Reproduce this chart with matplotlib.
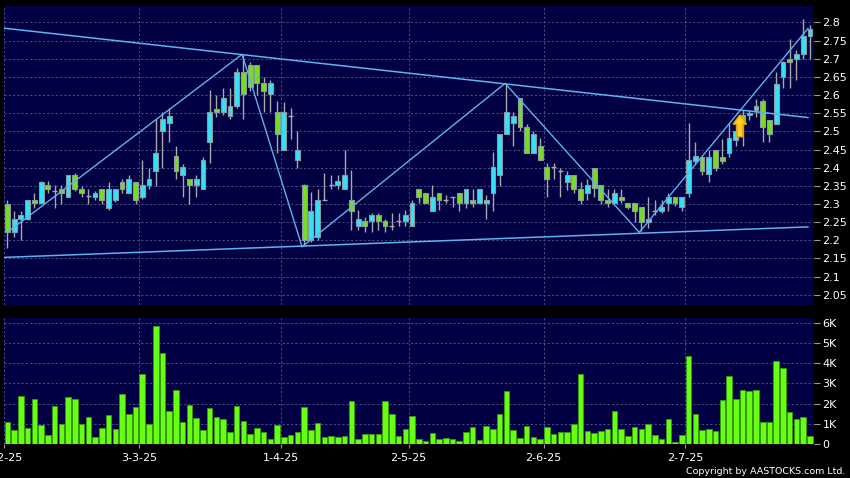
import matplotlib
matplotlib.use('Agg')
import matplotlib.pyplot as plt
import numpy as np
from matplotlib.patches import Polygon

# ---------------- data ----------------
opens = [2.300, 2.222, 2.260, 2.260, 2.311, 2.302, 2.352, 2.337, 2.340, 2.320,
         2.381, 2.340, 2.322, 2.320, 2.340, 2.290, 2.311, 2.361, 2.331, 2.361,
         2.320, 2.352, 2.391, 2.502, 2.522, 2.431, 2.381, 2.370, 2.352, 2.340,
         2.471, 2.561, 2.552, 2.542, 2.571, 2.662, 2.682, 2.682, 2.632, 2.603,
         2.552, 2.450, 2.542, 2.421, 2.351, 2.200, 2.210, 2.310, 2.352, 2.351,
         2.340, 2.310, 2.240, 2.253, 2.253, 2.271, 2.253, 2.240, 2.253, 2.253,
         2.240, 2.340, 2.331, 2.281, 2.331, 2.311, 2.320, 2.331, 2.302, 2.311,
         2.302, 2.302, 2.331, 2.381, 2.492, 2.522, 2.591, 2.513, 2.441, 2.460,
         2.401, 2.401, 2.391, 2.361, 2.381, 2.340, 2.331, 2.400, 2.351, 2.310,
         2.302, 2.320, 2.302, 2.302, 2.292, 2.250, 2.281, 2.281, 2.302, 2.320,
         2.292, 2.331, 2.419, 2.430, 2.382, 2.449, 2.430, 2.441, 2.475, 2.545,
         2.545, 2.560, 2.584, 2.532, 2.520, 2.650, 2.700, 2.700, 2.712, 2.762]
highs = [2.310, 2.280, 2.280, 2.311, 2.330, 2.362, 2.363, 2.352, 2.352, 2.381,
         2.385, 2.350, 2.340, 2.335, 2.340, 2.361, 2.340, 2.370, 2.381, 2.361,
         2.421, 2.400, 2.534, 2.552, 2.563, 2.461, 2.410, 2.370, 2.381, 2.430,
         2.614, 2.600, 2.620, 2.620, 2.673, 2.710, 2.690, 2.682, 2.650, 2.640,
         2.583, 2.581, 2.563, 2.500, 2.355, 2.333, 2.340, 2.385, 2.380, 2.380,
         2.450, 2.393, 2.283, 2.265, 2.274, 2.274, 2.260, 2.274, 2.274, 2.283,
         2.311, 2.340, 2.331, 2.352, 2.331, 2.325, 2.320, 2.331, 2.340, 2.340,
         2.340, 2.325, 2.442, 2.492, 2.632, 2.552, 2.591, 2.520, 2.502, 2.481,
         2.412, 2.412, 2.400, 2.391, 2.381, 2.360, 2.370, 2.400, 2.351, 2.340,
         2.340, 2.340, 2.302, 2.302, 2.292, 2.320, 2.310, 2.310, 2.331, 2.320,
         2.320, 2.522, 2.472, 2.430, 2.449, 2.449, 2.480, 2.522, 2.520, 2.560,
         2.558, 2.590, 2.590, 2.532, 2.664, 2.693, 2.753, 2.723, 2.810, 2.793]
lows = [2.180, 2.210, 2.200, 2.255, 2.290, 2.300, 2.330, 2.290, 2.300, 2.320,
        2.335, 2.320, 2.300, 2.310, 2.300, 2.283, 2.305, 2.330, 2.330, 2.300,
        2.315, 2.340, 2.350, 2.400, 2.470, 2.370, 2.320, 2.300, 2.320, 2.340,
        2.412, 2.540, 2.545, 2.533, 2.565, 2.535, 2.610, 2.600, 2.554, 2.552,
        2.441, 2.450, 2.480, 2.400, 2.185, 2.195, 2.200, 2.310, 2.340, 2.340,
        2.340, 2.228, 2.228, 2.222, 2.222, 2.228, 2.222, 2.228, 2.240, 2.240,
        2.240, 2.302, 2.302, 2.281, 2.283, 2.302, 2.292, 2.281, 2.290, 2.292,
        2.302, 2.260, 2.281, 2.350, 2.492, 2.460, 2.502, 2.441, 2.441, 2.421,
        2.320, 2.370, 2.320, 2.338, 2.330, 2.300, 2.310, 2.320, 2.300, 2.292,
        2.302, 2.302, 2.285, 2.250, 2.225, 2.235, 2.270, 2.275, 2.281, 2.295,
        2.281, 2.320, 2.410, 2.380, 2.360, 2.390, 2.410, 2.430, 2.460, 2.460,
        2.531, 2.540, 2.470, 2.470, 2.520, 2.620, 2.620, 2.640, 2.700, 2.700]
closes = [2.222, 2.260, 2.271, 2.311, 2.302, 2.361, 2.340, 2.337, 2.331, 2.381,
          2.340, 2.331, 2.322, 2.331, 2.311, 2.340, 2.340, 2.340, 2.370, 2.311,
          2.352, 2.370, 2.441, 2.533, 2.542, 2.391, 2.401, 2.352, 2.370, 2.421,
          2.552, 2.552, 2.591, 2.571, 2.662, 2.603, 2.621, 2.632, 2.612, 2.632,
          2.492, 2.552, 2.542, 2.450, 2.200, 2.281, 2.310, 2.310, 2.352, 2.362,
          2.381, 2.281, 2.260, 2.240, 2.271, 2.253, 2.240, 2.240, 2.253, 2.271,
          2.302, 2.320, 2.302, 2.320, 2.311, 2.311, 2.320, 2.302, 2.340, 2.302,
          2.340, 2.311, 2.401, 2.492, 2.552, 2.542, 2.513, 2.441, 2.492, 2.421,
          2.370, 2.401, 2.391, 2.381, 2.340, 2.311, 2.352, 2.345, 2.310, 2.302,
          2.331, 2.310, 2.292, 2.281, 2.250, 2.260, 2.281, 2.292, 2.320, 2.302,
          2.320, 2.421, 2.432, 2.392, 2.430, 2.400, 2.419, 2.481, 2.500, 2.520,
          2.550, 2.569, 2.513, 2.492, 2.630, 2.692, 2.692, 2.712, 2.762, 2.783]
volume_k = [1.07, 0.71, 2.39, 0.77, 2.22, 0.92, 0.44, 1.86, 0.99, 2.34,
            2.22, 0.97, 1.35, 0.35, 0.79, 1.43, 0.76, 2.50, 1.47, 1.81,
            3.48, 1.00, 5.86, 4.51, 1.63, 2.65, 1.07, 1.93, 1.27, 0.68,
            1.78, 1.32, 1.25, 0.61, 1.89, 1.15, 0.48, 0.77, 0.58, 0.26,
            0.92, 0.35, 0.46, 0.58, 1.85, 0.69, 1.04, 0.36, 0.41, 0.33,
            0.40, 2.14, 0.26, 0.49, 0.49, 0.48, 2.14, 1.47, 0.40, 0.72,
            1.40, 0.23, 0.17, 0.56, 0.27, 0.28, 0.23, 0.13, 0.58, 0.83,
            0.20, 0.90, 0.76, 1.48, 2.62, 0.68, 0.32, 0.91, 0.37, 0.23,
            0.85, 0.48, 0.58, 0.61, 1.00, 3.47, 0.63, 0.53, 0.63, 0.73,
            1.63, 0.76, 0.40, 0.86, 0.76, 1.00, 0.45, 0.23, 1.26, 0.08,
            0.47, 4.35, 1.50, 0.70, 0.76, 0.65, 2.16, 3.37, 2.21, 2.69,
            2.61, 2.66, 1.10, 1.10, 4.12, 3.75, 1.59, 1.23, 1.35, 0.38]

date_labels = ['3-2-25', '3-3-25', '1-4-25', '2-5-25', '2-6-25', '2-7-25']
date_index = [0, 20, 41, 60, 80, 101]

price_ticks = [2.05, 2.1, 2.15, 2.2, 2.25, 2.3, 2.35, 2.4, 2.45, 2.5,
               2.55, 2.6, 2.65, 2.7, 2.75, 2.8]
vol_ticks = [0, 1, 2, 3, 4, 5, 6]
vol_tick_labels = ['0', '1K', '2K', '3K', '4K', '5K', '6K']

# trend lines (index, price)
upper_line_x = [-0.5, 118.7]
upper_line_y = [2.784, 2.538]
lower_line_x = [-0.5, 118.7]
lower_line_y = [2.153, 2.237]
zigzag_x = [0, 34.8, 43.7, 73.8, 93.7, 118.7]
zigzag_y = [2.222, 2.712, 2.182, 2.632, 2.222, 2.783]

arrow_index = 108.6
arrow_base = 2.485
arrow_tip = 2.545

# ---------------- style ----------------
BG = '#000000'
PANEL = '#000042'
GRID = '#4e4e86'
UP = '#33e3f5'
DOWN = '#77dd22'
EDGE = '#8a9aa2'
WICK = '#a8a8a8'
LINE = '#5fb2ee'
VOL = '#66ff11'
VOL_EDGE = '#3a9a10'
DASH = (0, (2.2, 2.2))

n = len(opens)
idx = np.arange(n)
o = np.array(opens); c = np.array(closes)
h = np.array(highs); l = np.array(lows)

fig = plt.figure(figsize=(8.5, 4.78), dpi=100, facecolor=BG)
ax = fig.add_axes([4/850, 1-305/478, 810/850, 299/478], facecolor=PANEL)
axv = fig.add_axes([4/850, 1-444/478, 810/850, 126/478], facecolor=PANEL, sharex=ax)

xlim = (-0.5, 119.6)

# grid
for a in (ax, axv):
    for d in date_index:
        a.axvline(d - 0.5, color=GRID, lw=0.7, ls=DASH, zorder=0)
for p in price_ticks:
    ax.axhline(p, color=GRID, lw=0.7, ls=DASH, zorder=0)
for v in vol_ticks[1:]:
    axv.axhline(v, color=GRID, lw=0.7, ls=DASH, zorder=0)

# wicks
ax.vlines(idx, l, h, color=WICK, lw=1.0, zorder=2)
# bodies
up = c > o
down = c < o
doji = c == o
bw = 0.72
ax.bar(idx[up], (c - o)[up], bottom=o[up], width=bw, color=UP,
       edgecolor=EDGE, linewidth=0.8, zorder=3)
ax.bar(idx[down], (o - c)[down], bottom=c[down], width=bw, color=DOWN,
       edgecolor=EDGE, linewidth=0.8, zorder=3)
ax.hlines(c[doji], idx[doji] - bw/2, idx[doji] + bw/2, color=WICK, lw=1.0, zorder=3)

# trend lines
ax.plot(upper_line_x, upper_line_y, color=LINE, lw=1.1, zorder=4)
ax.plot(lower_line_x, lower_line_y, color=LINE, lw=1.1, zorder=4)
ax.plot(zigzag_x, zigzag_y, color=LINE, lw=1.0, zorder=4)

# arrow
hw = 1.0
sw = 0.42
hl = (arrow_tip - arrow_base) * 0.42
poly = [(arrow_index - sw, arrow_base), (arrow_index + sw, arrow_base),
        (arrow_index + sw, arrow_tip - hl), (arrow_index + hw, arrow_tip - hl),
        (arrow_index, arrow_tip), (arrow_index - hw, arrow_tip - hl),
        (arrow_index - sw, arrow_tip - hl)]
ax.add_patch(Polygon(poly, closed=True, facecolor='#ffd21f', edgecolor='#f59a00',
                     linewidth=1.0, zorder=6))

ax.set_xlim(*xlim)
ax.set_ylim(2.022, 2.845)
ax.yaxis.tick_right()
ax.set_yticks(price_ticks)
ax.set_yticklabels(['%g' % p for p in price_ticks])
ax.tick_params(axis='y', colors='#9a9a9a', labelcolor='white', length=4,
               width=0.8, pad=2, labelsize=8)
ax.tick_params(axis='x', bottom=False, labelbottom=False)
for s in ax.spines.values():
    s.set_visible(False)

# volume
axv.bar(idx, volume_k, width=0.82, color=VOL, edgecolor=VOL_EDGE, linewidth=0.6, zorder=3)
axv.set_ylim(0, 6.24)
axv.yaxis.tick_right()
axv.set_yticks(vol_ticks)
axv.set_yticklabels(vol_tick_labels)
axv.tick_params(axis='y', colors='#9a9a9a', labelcolor='white', length=4,
                width=0.8, pad=2, labelsize=8)
axv.set_xticks([d - 0.5 for d in date_index])
axv.set_xticklabels(date_labels)
axv.tick_params(axis='x', colors='#9a9a9a', labelcolor='white', length=3,
                width=0.8, pad=3.5, labelsize=8)
for s in axv.spines.values():
    s.set_visible(False)
axv.set_xlim(*xlim)

fig.text(0.994, 1 - 471/478, 'Copyright by AASTOCKS.com Ltd.', ha='right',
         va='center', color='white', fontsize=6.8)

fig.savefig('out.png', dpi=100, facecolor=BG)
